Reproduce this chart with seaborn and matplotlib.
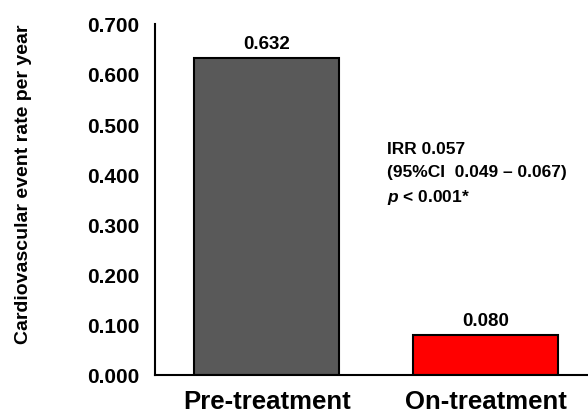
import matplotlib
matplotlib.use("Agg")
import matplotlib.pyplot as plt
import seaborn as sns
import pandas as pd

# Data
groups = ["Pre-treatment", "On-treatment"]
rates = [0.632, 0.080]
bar_colors = ["#595959", "#ff0000"]
y_ticks = [0.0, 0.1, 0.2, 0.3, 0.4, 0.5, 0.6, 0.7]
irr_lines = ["IRR 0.057", "(95%CI  0.049 \u2013 0.067)", "$p$ < 0.001*"]

df = pd.DataFrame({"Group": groups, "Rate": rates})

sns.set_style("white")
plt.rcParams["font.family"] = ["Liberation Sans", "DejaVu Sans"]
plt.rcParams["font.weight"] = "bold"
plt.rcParams["text.color"] = "black"
plt.rcParams["axes.labelcolor"] = "black"
plt.rcParams["xtick.color"] = "black"
plt.rcParams["ytick.color"] = "black"
plt.rcParams["mathtext.fontset"] = "custom"
plt.rcParams["mathtext.it"] = "Liberation Sans:italic:bold"
plt.rcParams["mathtext.rm"] = "Liberation Sans:bold"

fig = plt.figure(figsize=(5.88, 4.14), dpi=100)
ax = fig.add_axes([0.264, 0.092, 0.736, 0.848])

sns.barplot(
    data=df, x="Group", y="Rate", hue="Group", palette=bar_colors, saturation=1,
    width=0.66, edgecolor="black", linewidth=1.5, legend=False, ax=ax
)

# value labels above bars
for i, v in enumerate(rates):
    ax.annotate("{:.3f}".format(v), (i, v), xytext=(0, 4), textcoords="offset points",
                ha="center", va="bottom", fontsize=13.5, fontweight="bold")

# IRR annotation
for k, line in enumerate(irr_lines):
    ax.annotate(line, (0.55, 0.467), xytext=(0, -k * 16.5), textcoords="offset points",
                ha="left", va="top", fontsize=12.5, fontweight="bold")

ax.set_xlim(-0.509, 1.468)
ax.set_ylim(0, 0.7)
ax.set_yticks(y_ticks)
ax.set_yticklabels(["{:.3f}".format(t) for t in y_ticks], fontsize=15, fontweight="bold")
ax.set_xticks(range(len(groups)))
ax.set_xticklabels(groups, fontsize=18.5, fontweight="bold")
ax.tick_params(axis="y", direction="out", length=3.5, width=1.5, pad=8)
ax.tick_params(axis="x", length=0, pad=10)

ax.set_xlabel("")
ax.set_ylabel("Cardiovascular event rate per year", fontsize=14, fontweight="bold")
ax.yaxis.set_label_coords(-0.284, 0.547)

sns.despine(ax=ax)
for s in ["left", "bottom"]:
    ax.spines[s].set_linewidth(1.5)
    ax.spines[s].set_color("black")

fig.savefig("out.png", dpi=100)
